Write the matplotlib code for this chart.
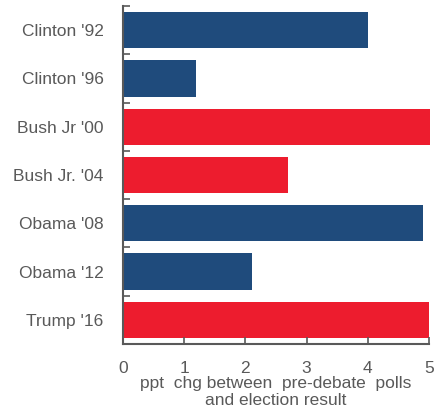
import numpy as np
import matplotlib.pyplot as plt

# data
labels = ["Clinton '92", "Clinton '96", "Bush Jr '00", "Bush Jr. '04",
          "Obama '08", "Obama '12", "Trump '16"]
values = [4.0, 1.2, 5.02, 2.7, 4.91, 2.1, 5.0]
party = ["D", "D", "R", "R", "D", "D", "R"]

colors = {"D": "#1F4B7C", "R": "#ED1C2E"}
grey = "#595959"

plt.rcParams['font.family'] = ['Liberation Sans', 'DejaVu Sans']

fig = plt.figure(figsize=(4.46, 4.15), dpi=100)
ax = fig.add_axes([123 / 446, 1 - 344 / 415, (429 - 123) / 446, (344 - 6) / 415])

y = np.arange(len(labels))
ax.barh(y, values, height=0.75, color=[colors[p] for p in party], clip_on=False)

ax.set_xlim(0, 5)
ax.set_ylim(len(labels) - 0.5, -0.5)

ax.set_yticks(y)
ax.set_yticklabels(labels)
ax.set_yticks(np.arange(len(labels) + 1) - 0.5, minor=True)
ax.tick_params(axis='y', which='major', length=0, pad=14, labelsize=12.5, labelcolor=grey)
ax.tick_params(axis='y', which='minor', direction='in', length=5, width=1.2, color=grey)

ax.set_xticks(range(6))
ax.tick_params(axis='x', direction='in', length=5, width=1.2, color=grey,
               pad=12, labelsize=12.5, labelcolor=grey)
ax.set_xlabel("ppt  chg between  pre-debate  polls\nand election result",
              fontsize=12.5, color=grey, labelpad=0, linespacing=1.2)

for s in ['top', 'right']:
    ax.spines[s].set_visible(False)
for s in ['left', 'bottom']:
    ax.spines[s].set_color(grey)
    ax.spines[s].set_linewidth(1.5)

fig.savefig("out.png", dpi=100)
